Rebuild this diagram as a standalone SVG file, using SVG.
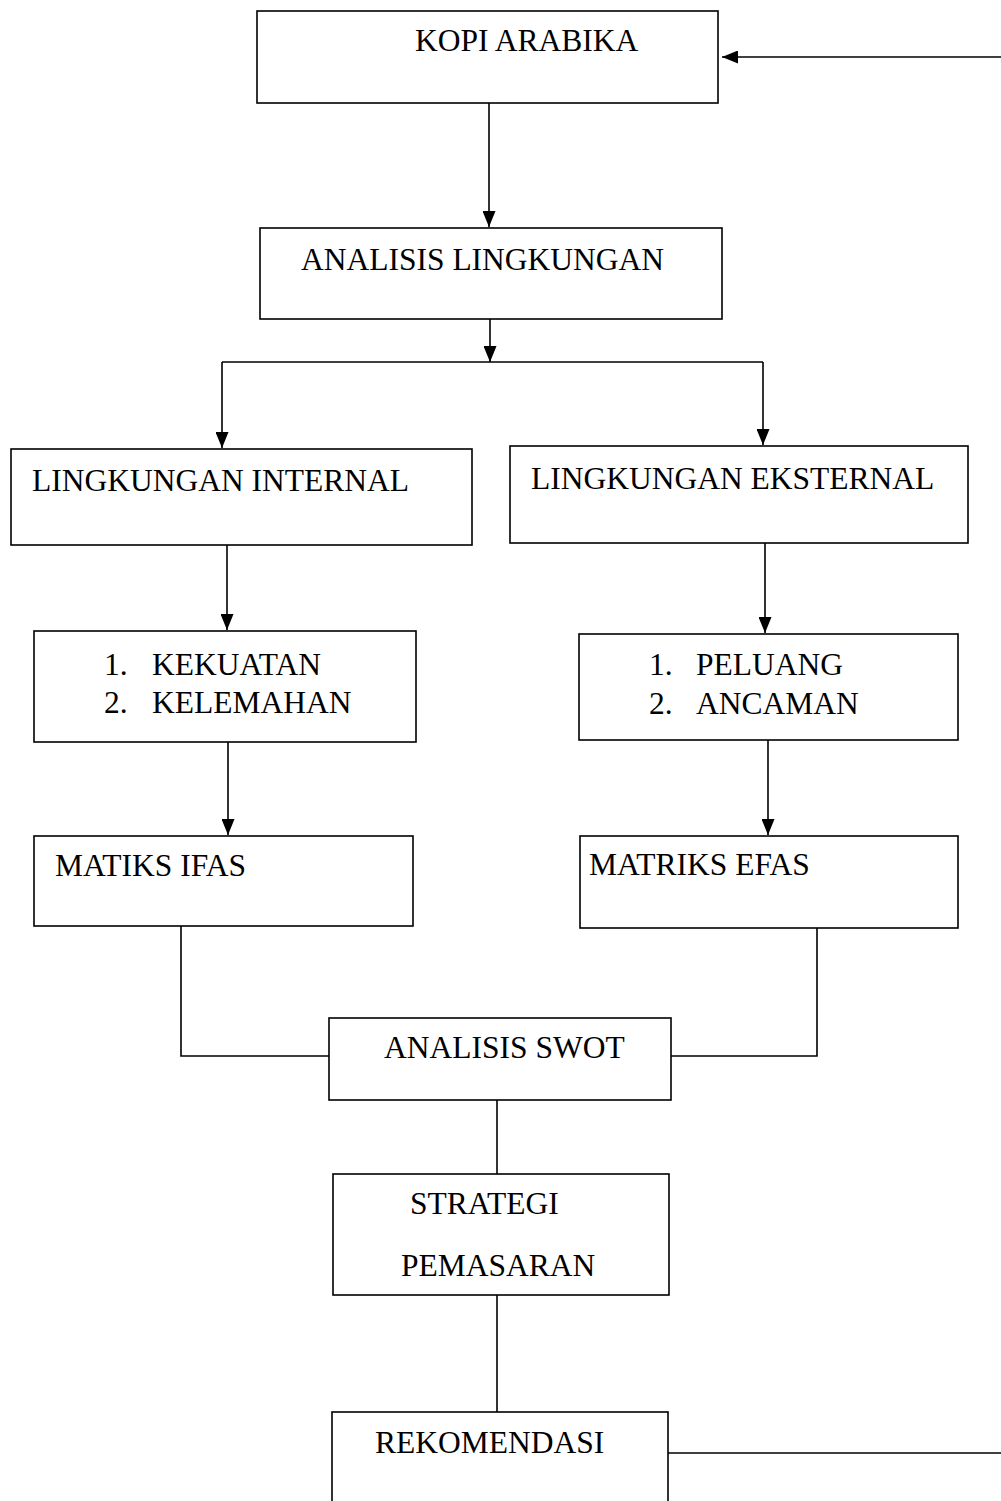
<svg xmlns="http://www.w3.org/2000/svg" width="1001" height="1501" viewBox="0 0 1001 1501">
<style>
.box{fill:#fff;stroke:#000;stroke-width:1.6}
.ln{fill:none;stroke:#000;stroke-width:1.6}
text{font-family:"Liberation Serif","Times New Roman",serif;font-size:31.5px;fill:#000}
</style>
<defs>
<marker id="ah" markerUnits="userSpaceOnUse" markerWidth="16" markerHeight="13" viewBox="0 0 16 13" refX="16" refY="6.5" orient="auto">
<path d="M0,0 L16,6.5 L0,13 Z" fill="#000"/>
</marker>
</defs>
<rect width="1001" height="1501" fill="#fff"/>
<g id="connectors">
<line class="ln" x1="1001" y1="57" x2="722" y2="57" marker-end="url(#ah)"/>
<line class="ln" x1="489" y1="103" x2="489" y2="227" marker-end="url(#ah)"/>
<line class="ln" x1="490" y1="319" x2="490" y2="362" marker-end="url(#ah)"/>
<line class="ln" x1="222" y1="362" x2="763" y2="362"/>
<line class="ln" x1="222" y1="362" x2="222" y2="448" marker-end="url(#ah)"/>
<line class="ln" x1="763" y1="362" x2="763" y2="445" marker-end="url(#ah)"/>
<line class="ln" x1="227" y1="545" x2="227" y2="630" marker-end="url(#ah)"/>
<line class="ln" x1="765" y1="543" x2="765" y2="633" marker-end="url(#ah)"/>
<line class="ln" x1="228" y1="742" x2="228" y2="835" marker-end="url(#ah)"/>
<line class="ln" x1="768" y1="740" x2="768" y2="835" marker-end="url(#ah)"/>
<polyline class="ln" points="181,926 181,1056 329,1056"/>
<polyline class="ln" points="817,928 817,1056 671,1056"/>
<line class="ln" x1="497" y1="1100" x2="497" y2="1174"/>
<line class="ln" x1="497" y1="1295" x2="497" y2="1412"/>
<line class="ln" x1="668" y1="1453" x2="1001" y2="1453"/>
</g>
<g id="kopi"><rect class="box" x="257" y="11" width="461" height="92"/><text x="415" y="51">KOPI ARABIKA</text></g>
<g id="analisis-lingkungan"><rect class="box" x="260" y="228" width="462" height="91"/><text x="301" y="270">ANALISIS LINGKUNGAN</text></g>
<g id="internal"><rect class="box" x="11" y="449" width="461" height="96"/><text x="32" y="491">LINGKUNGAN INTERNAL</text></g>
<g id="eksternal"><rect class="box" x="510" y="446" width="458" height="97"/><text x="531" y="489">LINGKUNGAN EKSTERNAL</text></g>
<g id="kekuatan"><rect class="box" x="34" y="631" width="382" height="111"/><text x="104" y="675">1.</text><text x="152" y="675">KEKUATAN</text><text x="104" y="713">2.</text><text x="152" y="713">KELEMAHAN</text></g>
<g id="peluang"><rect class="box" x="579" y="634" width="379" height="106"/><text x="649" y="675">1.</text><text x="696" y="675">PELUANG</text><text x="649" y="714">2.</text><text x="696" y="714">ANCAMAN</text></g>
<g id="ifas"><rect class="box" x="34" y="836" width="379" height="90"/><text x="55" y="876">MATIKS IFAS</text></g>
<g id="efas"><rect class="box" x="580" y="836" width="378" height="92"/><text x="589" y="875">MATRIKS EFAS</text></g>
<g id="swot"><rect class="box" x="329" y="1018" width="342" height="82"/><text x="384" y="1058">ANALISIS SWOT</text></g>
<g id="strategi"><rect class="box" x="333" y="1174" width="336" height="121"/><text x="410" y="1214">STRATEGI</text><text x="401" y="1276">PEMASARAN</text></g>
<g id="rekomendasi"><rect class="box" x="332" y="1412" width="336" height="100"/><text x="375" y="1453">REKOMENDASI</text></g>
</svg>
